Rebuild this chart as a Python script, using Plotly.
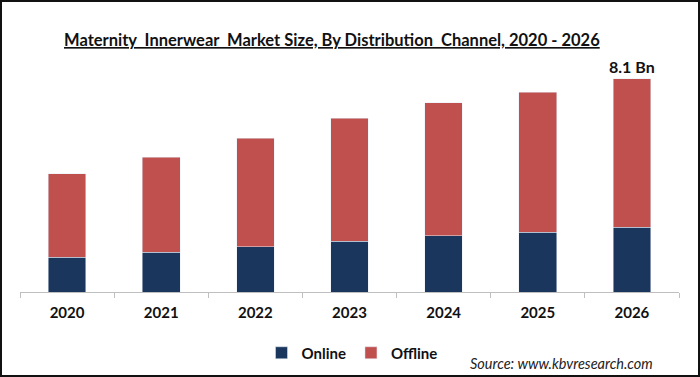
import plotly.graph_objects as go

years = ["2020", "2021", "2022", "2023", "2024", "2025", "2026"]
online = [1.32, 1.51, 1.71, 1.92, 2.13, 2.27, 2.46]
offline = [3.17, 3.61, 4.12, 4.67, 5.06, 5.32, 5.64]
total_label = "8.1 Bn"

FONT = "Lato, 'Open Sans', sans-serif"
W, H = 700, 377
L, R, T, B = 20, 21, 55, 85

fig = go.Figure()
fig.add_bar(x=years, y=online, name="Online", marker_color="#1b365d")
fig.add_bar(x=years, y=offline, name="Offline", marker_color="#c0504d")

pw = W - L - R
ph = H - T - B

def px(x):
    return (x - L) / pw

def py(y):
    return (H - B - y) / ph

fig.update_layout(
    width=W, height=H,
    barmode="stack", bargap=0.6,
    margin=dict(l=L, r=R, t=T, b=B, autoexpand=False),
    paper_bgcolor="white", plot_bgcolor="white",
    font=dict(family=FONT, color="#222"),
    showlegend=True,
    legend=dict(orientation="h", x=px(352), xanchor="center", y=py(353), yanchor="middle",
                font=dict(size=15, family=FONT, color="#111", weight="bold"),
                itemwidth=30, traceorder="normal"),
    xaxis=dict(type="category", range=[-0.5, len(years) - 0.5], showline=True, linecolor="#bfbfbf",
               linewidth=1, ticks="outside", tickson="boundaries", ticklen=5, tickcolor="#bfbfbf",
               ticklabelstandoff=7, automargin=False,
               tickfont=dict(size=15, family=FONT, color="#111", weight="bold"),
               showgrid=False),
    yaxis=dict(range=[0, 9], visible=False, showgrid=False),
)

fig.add_annotation(text="<u>Maternity  Innerwear  Market Size, By Distribution  Channel, 2020 - 2026</u>",
                   xref="paper", yref="paper", x=px(332), y=py(40), xanchor="center", yanchor="middle",
                   showarrow=False, font=dict(size=16.5, family=FONT, color="#111", weight="bold"))
fig.add_annotation(text=total_label, x=len(years) - 1, y=online[-1] + offline[-1],
                   yanchor="bottom", yshift=1, showarrow=False,
                   font=dict(size=16, family=FONT, color="#111", weight="bold"))
fig.add_annotation(text="<i>Source: www.kbvresearch.com</i>", xref="paper", yref="paper",
                   x=px(655), y=py(363), xanchor="right", yanchor="middle", showarrow=False,
                   font=dict(size=14.5, family=FONT, color="#222"))
fig.add_shape(type="rect", xref="paper", yref="paper", x0=px(1), x1=px(W - 1), y0=py(H - 1), y1=py(1),
              line=dict(color="#111", width=2), fillcolor="rgba(0,0,0,0)", layer="above")

fig.write_html("out.html", config={"displayModeBar": False},
               post_script="document.body.style.margin='0';document.body.style.overflow='hidden';")
